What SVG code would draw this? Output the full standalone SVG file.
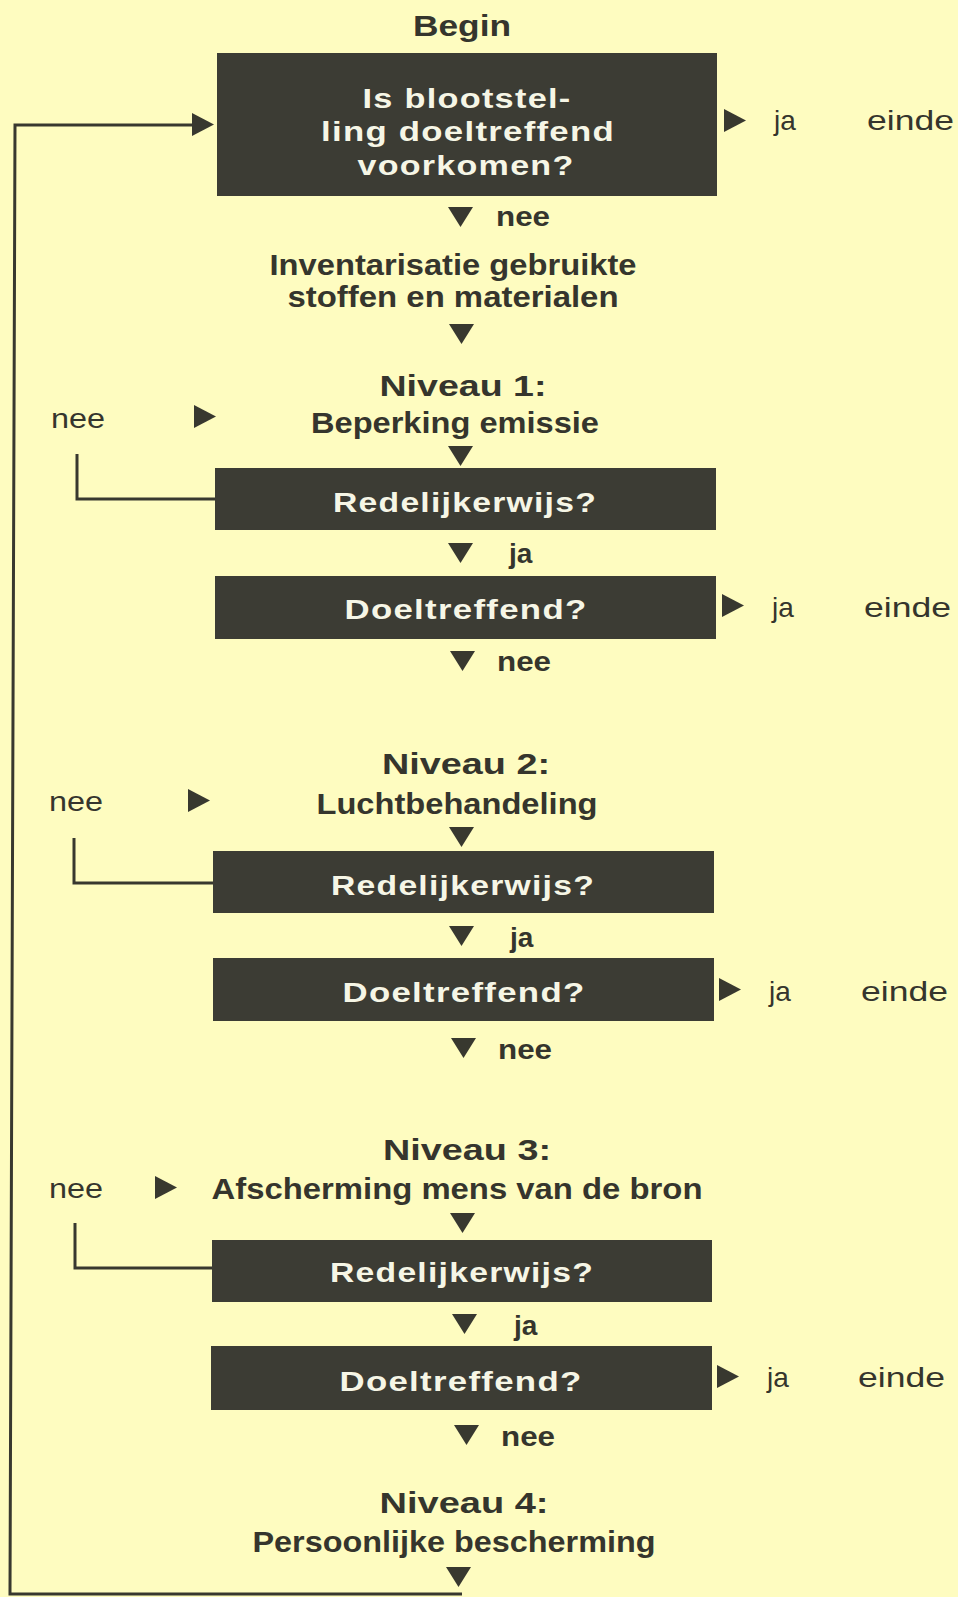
<svg xmlns="http://www.w3.org/2000/svg" width="958" height="1597" viewBox="0 0 958 1597">
<style>
.bg{fill:#FEFCC0}
.box{fill:#3C3C34}
.tri{fill:#38382F}
.ln{fill:none;stroke:#38382F;stroke-width:3}
text{font-family:"Liberation Sans",Arial,sans-serif;fill:#35352D}
.h{font-weight:bold;font-size:29px;text-anchor:middle}
.m{font-weight:600;font-size:29px;text-anchor:middle}
.r{font-size:28px}
.b{font-size:28px;font-weight:bold}
.w{font-weight:bold;font-size:27px;fill:#F6F6E6;text-anchor:middle;letter-spacing:1px}
</style>
<defs>
<path id="dn" d="M0,0 L25,0 L12.5,20 Z"/>
<path id="rt" d="M0,0 L22,11.5 L0,23 Z"/>
</defs>
<rect class="bg" x="0" y="0" width="958" height="1597"/>

<g id="connectors">
<polyline class="ln" points="193,125 15,125 10,1594 462,1594"/>
<use href="#rt" class="tri" x="192" y="113"/>
<polyline class="ln" points="77,454 77,499 216,499"/>
<polyline class="ln" points="74,838 74,883 214,883"/>
<polyline class="ln" points="75,1223 75,1268 213,1268"/>
<use href="#dn" class="tri" x="448" y="207"/>
<use href="#dn" class="tri" x="449" y="324"/>
<use href="#rt" class="tri" x="194" y="405"/>
<use href="#dn" class="tri" x="448" y="446"/>
<use href="#dn" class="tri" x="448" y="543"/>
<use href="#dn" class="tri" x="450" y="651"/>
<use href="#rt" class="tri" x="188" y="789"/>
<use href="#dn" class="tri" x="449" y="827"/>
<use href="#dn" class="tri" x="449" y="926"/>
<use href="#dn" class="tri" x="451" y="1038"/>
<use href="#rt" class="tri" x="155" y="1176"/>
<use href="#dn" class="tri" x="450" y="1213"/>
<use href="#dn" class="tri" x="452" y="1314"/>
<use href="#dn" class="tri" x="454" y="1425"/>
<use href="#dn" class="tri" x="446" y="1567"/>
<use href="#rt" class="tri" x="724" y="109"/>
<use href="#rt" class="tri" x="722" y="594"/>
<use href="#rt" class="tri" x="719" y="978"/>
<use href="#rt" class="tri" x="717" y="1365"/>
</g>

<g id="begin"><text class="h" x="462" y="36" textLength="98" lengthAdjust="spacingAndGlyphs">Begin</text></g>

<g id="q0">
<rect class="box" x="217" y="53" width="500" height="143"/>
<text class="w" x="467" y="108" textLength="209" lengthAdjust="spacingAndGlyphs">Is blootstel-</text>
<text class="w" x="468" y="141" textLength="294" lengthAdjust="spacingAndGlyphs">ling doeltreffend</text>
<text class="w" x="466" y="175" textLength="217" lengthAdjust="spacingAndGlyphs">voorkomen?</text>
</g>
<g id="end0"><text class="r" x="774" y="130">ja</text><text class="r" x="867" y="130" textLength="87" lengthAdjust="spacingAndGlyphs">einde</text></g>
<g id="nee0"><text class="b" x="496" y="226" textLength="54" lengthAdjust="spacingAndGlyphs">nee</text></g>

<g id="inventarisatie">
<text class="m" x="453" y="275" textLength="367" lengthAdjust="spacingAndGlyphs">Inventarisatie gebruikte</text>
<text class="m" x="453" y="307" textLength="331" lengthAdjust="spacingAndGlyphs">stoffen en materialen</text>
</g>

<g id="niveau1">
<text class="h" x="463" y="396" textLength="167" lengthAdjust="spacingAndGlyphs">Niveau 1:</text>
<text class="m" x="455" y="433" textLength="288" lengthAdjust="spacingAndGlyphs">Beperking emissie</text>
<text class="r" x="51" y="428" textLength="54" lengthAdjust="spacingAndGlyphs">nee</text>
</g>
<g id="r1">
<rect class="box" x="215" y="468" width="501" height="62"/>
<text class="w" x="465" y="512" textLength="264" lengthAdjust="spacingAndGlyphs">Redelijkerwijs?</text>
</g>
<g id="ja1"><text class="b" x="509" y="563">ja</text></g>
<g id="d1">
<rect class="box" x="215" y="576" width="501" height="63"/>
<text class="w" x="466" y="619" textLength="243" lengthAdjust="spacingAndGlyphs">Doeltreffend?</text>
</g>
<g id="end1"><text class="r" x="772" y="617">ja</text><text class="r" x="864" y="617" textLength="87" lengthAdjust="spacingAndGlyphs">einde</text></g>
<g id="nee1"><text class="b" x="497" y="671" textLength="54" lengthAdjust="spacingAndGlyphs">nee</text></g>

<g id="niveau2">
<text class="h" x="466" y="774" textLength="168" lengthAdjust="spacingAndGlyphs">Niveau 2:</text>
<text class="m" x="457" y="814" textLength="281" lengthAdjust="spacingAndGlyphs">Luchtbehandeling</text>
<text class="r" x="49" y="811" textLength="54" lengthAdjust="spacingAndGlyphs">nee</text>
</g>
<g id="r2">
<rect class="box" x="213" y="851" width="501" height="62"/>
<text class="w" x="463" y="895" textLength="264" lengthAdjust="spacingAndGlyphs">Redelijkerwijs?</text>
</g>
<g id="ja2"><text class="b" x="510" y="947">ja</text></g>
<g id="d2">
<rect class="box" x="213" y="958" width="501" height="63"/>
<text class="w" x="464" y="1002" textLength="243" lengthAdjust="spacingAndGlyphs">Doeltreffend?</text>
</g>
<g id="end2"><text class="r" x="769" y="1001">ja</text><text class="r" x="861" y="1001" textLength="87" lengthAdjust="spacingAndGlyphs">einde</text></g>
<g id="nee2"><text class="b" x="498" y="1059" textLength="54" lengthAdjust="spacingAndGlyphs">nee</text></g>

<g id="niveau3">
<text class="h" x="467" y="1160" textLength="168" lengthAdjust="spacingAndGlyphs">Niveau 3:</text>
<text class="m" x="457" y="1199" textLength="491" lengthAdjust="spacingAndGlyphs">Afscherming mens van de bron</text>
<text class="r" x="49" y="1198" textLength="54" lengthAdjust="spacingAndGlyphs">nee</text>
</g>
<g id="r3">
<rect class="box" x="212" y="1240" width="500" height="62"/>
<text class="w" x="462" y="1282" textLength="264" lengthAdjust="spacingAndGlyphs">Redelijkerwijs?</text>
</g>
<g id="ja3"><text class="b" x="514" y="1335">ja</text></g>
<g id="d3">
<rect class="box" x="211" y="1346" width="501" height="64"/>
<text class="w" x="461" y="1391" textLength="243" lengthAdjust="spacingAndGlyphs">Doeltreffend?</text>
</g>
<g id="end3"><text class="r" x="767" y="1387">ja</text><text class="r" x="858" y="1387" textLength="87" lengthAdjust="spacingAndGlyphs">einde</text></g>
<g id="nee3"><text class="b" x="501" y="1446" textLength="54" lengthAdjust="spacingAndGlyphs">nee</text></g>

<g id="niveau4">
<text class="h" x="464" y="1513" textLength="169" lengthAdjust="spacingAndGlyphs">Niveau 4:</text>
<text class="m" x="454" y="1552" textLength="403" lengthAdjust="spacingAndGlyphs">Persoonlijke bescherming</text>
</g>
</svg>
